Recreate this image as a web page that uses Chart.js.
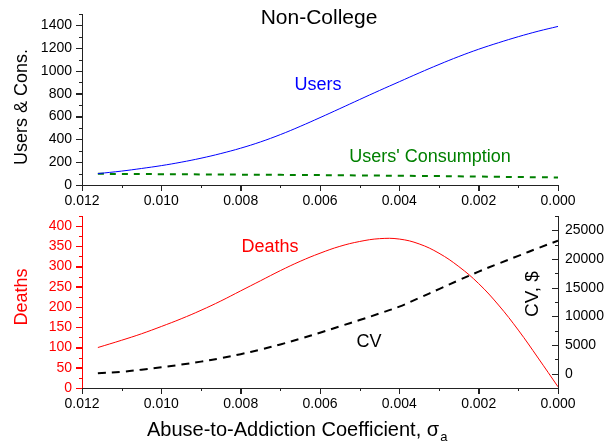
<!DOCTYPE html>
<html>
<head>
<meta charset="utf-8">
<script src="https://cdn.jsdelivr.net/npm/chart.js@4.4.1/dist/chart.umd.min.js"></script>
<style>
  html, body { margin: 0; padding: 0; background: #fff; }
  #wrap { position: relative; width: 604px; height: 444px; overflow: hidden; }
  canvas { position: absolute; left: 0; }
  #top { top: 0; }
  #bottom { top: 200px; }
</style>
</head>
<body>
<div id="wrap">
  <canvas id="top" width="604" height="210"></canvas>
  <canvas id="bottom" width="604" height="244"></canvas>
</div>
<script>
// data
const sigma       = [0.0116, 0.011, 0.0105, 0.010, 0.0095, 0.009, 0.0085, 0.008, 0.0075, 0.007, 0.0065, 0.006,
                     0.0055, 0.005, 0.0045, 0.004, 0.0035, 0.003, 0.0025, 0.002, 0.0015, 0.001, 0.0005, 0.000];
const users       = [100, 122, 145, 170, 200, 235, 276, 323, 378, 442, 514, 591,
                     670, 750, 829, 906, 983, 1057, 1127, 1191, 1248, 1301, 1349, 1391];
const consumption = [98, 97, 96, 95, 94, 93, 92, 91, 90, 89, 88, 87,
                     85.5, 84, 82.5, 81, 79.5, 78, 76, 74, 72, 70, 68, 66];
const deaths      = [100, 118, 134, 152, 171, 192, 215, 240, 265, 290, 313, 333,
                     350, 362, 369, 368, 356, 333, 300, 258, 205, 143, 74, 3];
const cv          = [60, 330, 700, 1120, 1580, 2100, 2700, 3400, 4200, 5100, 6100, 7150,
                     8250, 9350, 10500, 11700, 13200, 14750, 16300, 17800, 19200, 20550, 21900, 23200];

// tick labels
const xTicks          = [0.012, 0.010, 0.008, 0.006, 0.004, 0.002, 0.000];
const xMinorTicks     = [0.011, 0.009, 0.007, 0.005, 0.003, 0.001];
const usersTicks      = [0, 200, 400, 600, 800, 1000, 1200, 1400];
const usersMinorTicks = [100, 300, 500, 700, 900, 1100, 1300, 1500];
const deathTicks      = [0, 50, 100, 150, 200, 250, 300, 350, 400];
const deathMinorTicks = [25, 75, 125, 175, 225, 275, 325, 375, 425];
const cvTicks         = [0, 5000, 10000, 15000, 20000, 25000];
const cvMinorTicks    = [-2500, 2500, 7500, 12500, 17500, 22500, 27500];

const family = '"Liberation Sans", Arial, sans-serif';
const tickFont = { family: family, size: 14 };
const axisColor = '#222';

const pts = (ys) => sigma.map((s, i) => ({ x: s, y: ys[i] }));

// minor tick marks (and inward ticks of the right axis) plus free text
function decor(axes, items) {
  return {
    id: 'decor',
    afterDraw(chart) {
      const ctx = chart.ctx;
      axes.forEach(a => {
        const s = chart.scales[a.id];
        ctx.save();
        ctx.fillStyle = a.color;
        const mark = (v, len) => {
          const p = Math.round(s.getPixelForValue(v));
          if (s.isHorizontal()) {
            ctx.fillRect(p, Math.round(s.top), 1, len);
          } else {
            const x0 = Math.round(s.position === 'left' ? s.right : s.left);
            ctx.fillRect(x0 - len, p, len, 1);
          }
        };
        a.major.forEach(v => mark(v, 6));
        a.minor.forEach(v => mark(v, 3));
        ctx.restore();
      });
      items.forEach(t => {
        ctx.save();
        ctx.font = t.size + 'px ' + family;
        ctx.fillStyle = t.color;
        ctx.textAlign = t.align || 'center';
        ctx.textBaseline = t.baseline || 'middle';
        ctx.translate(t.x, t.y);
        if (t.rotate) ctx.rotate(t.rotate);
        ctx.fillText(t.text, 0, 0);
        if (t.sub) {
          const w = ctx.measureText(t.text).width;
          ctx.font = '13px ' + family;
          ctx.fillText(t.sub, w + 1, 5);
        }
        ctx.restore();
      });
    }
  };
}

function xScale(height) {
  return {
    type: 'linear', reverse: true, min: 0, max: 0.012,
    afterBuildTicks: s => { s.ticks = xTicks.map(v => ({ value: v })); },
    afterFit: s => { s.height = height; },
    grid: { display: true, drawOnChartArea: false, drawTicks: true, tickLength: 6, tickColor: axisColor },
    border: { display: true, color: axisColor, width: 1 },
    ticks: { padding: 2, color: '#000', font: tickFont, maxRotation: 0, autoSkip: false,
             callback: v => Number(v).toFixed(3) }
  };
}

function yScale(o) {
  return {
    position: o.position, min: o.min, max: o.max,
    afterBuildTicks: s => { s.ticks = o.ticks.map(v => ({ value: v })); },
    afterFit: s => { s.width = o.width; },
    grid: { display: true, drawOnChartArea: false, drawTicks: o.outTicks, tickLength: 6, tickColor: o.color },
    border: { display: true, color: o.color, width: 1 },
    ticks: { padding: o.padding, color: o.color === axisColor ? '#000' : o.color, font: tickFont,
             callback: v => String(v) }
  };
}

const common = {
  responsive: false,
  animation: false,
  devicePixelRatio: 1,
  events: [],
  elements: { point: { radius: 0 } }
};

// top panel
new Chart(document.getElementById('top'), {
  type: 'line',
  data: {
    datasets: [
      { data: pts(users), borderColor: '#0000ff', borderWidth: 1, tension: 0.4 },
      { data: pts(consumption), borderColor: '#008000', borderWidth: 2, borderDash: [6, 6], tension: 0.4 }
    ]
  },
  options: {
    ...common,
    layout: { padding: { top: 14, right: 46, bottom: 0, left: 0 } },
    scales: {
      x: xScale(25),
      y: yScale({ position: 'left', min: 0, max: 1500, ticks: usersTicks, width: 82, padding: 4,
                  color: axisColor, outTicks: true })
    },
    plugins: { legend: { display: false }, tooltip: { enabled: false } }
  },
  plugins: [
    decor([
      { id: 'x', major: xTicks, minor: xMinorTicks, color: axisColor },
      { id: 'y', major: usersTicks, minor: usersMinorTicks, color: axisColor }
    ], [
      { text: 'Non-College', x: 319, y: 18, size: 21, color: '#000' },
      { text: 'Users', x: 318, y: 85, size: 18, color: '#0000ff' },
      { text: "Users' Consumption", x: 430, y: 157, size: 18, color: '#008000' },
      { text: 'Users & Cons.', x: 22, y: 107, size: 18, color: '#000', rotate: -Math.PI / 2 }
    ])
  ]
});

// bottom panel
new Chart(document.getElementById('bottom'), {
  type: 'line',
  data: {
    datasets: [
      { data: pts(deaths), yAxisID: 'y', borderColor: '#ff0000', borderWidth: 1, tension: 0.4 },
      { data: pts(cv), yAxisID: 'y2', borderColor: '#000', borderWidth: 2, borderDash: [8, 6], tension: 0.4 }
    ]
  },
  options: {
    ...common,
    layout: { padding: { top: 16, right: 0, bottom: 0, left: 0 } },
    scales: {
      x: xScale(56),
      y: yScale({ position: 'left', min: 0, max: 425, ticks: deathTicks, width: 82, padding: 4,
                  color: '#ff0000', outTicks: true }),
      y2: yScale({ position: 'right', min: -2500, max: 27500, ticks: cvTicks, width: 46, padding: 7,
                   color: axisColor, outTicks: false })
    },
    plugins: { legend: { display: false }, tooltip: { enabled: false } }
  },
  plugins: [
    decor([
      { id: 'x', major: xTicks, minor: xMinorTicks, color: axisColor },
      { id: 'y', major: deathTicks, minor: deathMinorTicks, color: '#ff0000' },
      { id: 'y2', major: cvTicks, minor: cvMinorTicks, color: axisColor }
    ], [
      { text: 'Deaths', x: 270, y: 47, size: 18, color: '#ff0000' },
      { text: 'CV', x: 369, y: 142, size: 18, color: '#000' },
      { text: 'Deaths', x: 22, y: 97, size: 18, color: '#ff0000', rotate: -Math.PI / 2 },
      { text: 'CV, $', x: 533, y: 94, size: 19, color: '#000', rotate: -Math.PI / 2 },
      { text: 'Abuse-to-Addiction Coefficient, \u03c3', x: 147, y: 236, size: 20, color: '#000',
        align: 'left', baseline: 'alphabetic', sub: 'a' }
    ])
  ]
});
</script>
</body>
</html>
